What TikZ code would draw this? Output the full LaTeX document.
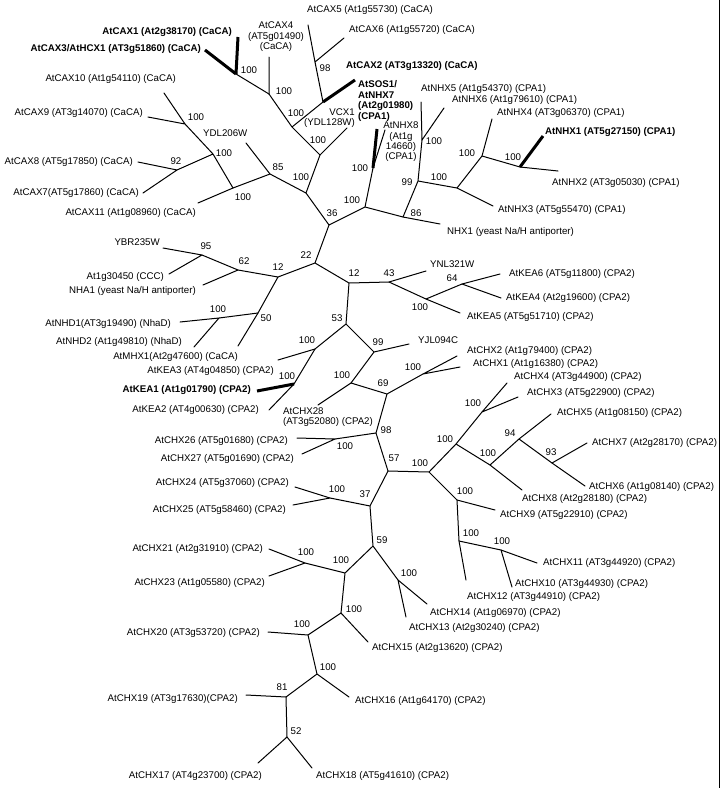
\documentclass[tikz,border=0pt]{standalone}
\usepackage{fontspec}
\setmainfont{Liberation Sans}
\newcommand\labfont{\fontsize{9.7}{10.4}\selectfont}
\tikzset{
  br/.style={line width=1pt, line cap=round},
  thk/.style={line width=3pt},
  lab/.style={inner sep=0pt, font=\labfont, text height=7pt, text depth=2pt},
  mlab/.style={inner sep=0pt, font=\labfont},
  bs/.style={inner sep=0pt, font=\labfont},
}
\begin{document}
\begin{tikzpicture}[x=1pt,y=-1pt]
\fill[white] (0,0) rectangle (720,788);
\useasboundingbox (0,0) rectangle (720,788);
\draw[line width=1.5pt] (719.3,0) -- (719.3,788);
% internal nodes
\coordinate (nc13) at (236,74);
\coordinate (nc4) at (269,94);
\coordinate (na) at (292,127);
\coordinate (nc2) at (323,102);
\coordinate (n98) at (315,62);
\coordinate (nv) at (320,155);
\coordinate (nb) at (306,193);
\coordinate (n85) at (270,174);
\coordinate (nc) at (233,188);
\coordinate (nd) at (213,154);
\coordinate (ne) at (185,124);
\coordinate (n92) at (177,170);
\coordinate (n36) at (329,225);
\coordinate (nf) at (365,207);
\coordinate (nsos) at (373,168);
\coordinate (n86) at (403,217);
\coordinate (n99) at (418,181);
\coordinate (ng) at (422,140);
\coordinate (nh) at (457,188);
\coordinate (ni) at (482,156);
\coordinate (nj) at (520,167);
\coordinate (n22) at (315,263);
\coordinate (n12a) at (278,277);
\coordinate (n62) at (238,270);
\coordinate (n95) at (202,255);
\coordinate (n50) at (258,313);
\coordinate (nnhd) at (219,318);
\coordinate (n12b) at (349,283);
\coordinate (n43) at (389,282);
\coordinate (nk) at (426,299);
\coordinate (n64) at (462,284);
\coordinate (n53) at (346,324);
\coordinate (nkea) at (315,349);
\coordinate (nkea12) at (294,384);
\coordinate (n99b) at (374,352);
\coordinate (nl) at (351,383);
\coordinate (n69) at (387,394);
\coordinate (nm) at (423,374);
\coordinate (n98b) at (376,433);
\coordinate (nn) at (335,439);
\coordinate (n57) at (388,471);
\coordinate (no) at (429,472);
\coordinate (np) at (456,444);
\coordinate (nq) at (482,412);
\coordinate (nr) at (490,465);
\coordinate (n94) at (519,439);
\coordinate (n93) at (552,463);
\coordinate (ns) at (457,500);
\coordinate (nt) at (459,541);
\coordinate (nu) at (501,550);
\coordinate (n37) at (370,506);
\coordinate (nw) at (330,498);
\coordinate (n59) at (373,546);
\coordinate (nx) at (398,580);
\coordinate (ny) at (345,573);
\coordinate (nz) at (305,563);
\coordinate (naa) at (341,613);
\coordinate (nbb) at (308,635);
\coordinate (ncc) at (317,674);
\coordinate (n81) at (286,697);
\coordinate (n52) at (287,737);
% leaf ends
\coordinate (lc1) at (238,37);
\coordinate (lc3) at (205,50);
\coordinate (lc4) at (269,57);
\coordinate (lc2) at (355,80);
\coordinate (lc5) at (308,25);
\coordinate (lc6) at (344,38);
\coordinate (lvcx) at (347,128);
\coordinate (lydl) at (246,143);
\coordinate (lc11) at (198,203);
\coordinate (lc10) at (164,93);
\coordinate (lc9) at (148,117);
\coordinate (lc8) at (138,162);
\coordinate (lc7) at (143,193);
\coordinate (lsos) at (377,129);
\coordinate (lnhx8) at (385,130);
\coordinate (lynhx) at (440,224);
\coordinate (lnhx5) at (421,102);
\coordinate (lnhx6) at (444,108);
\coordinate (lnhx3) at (493,206);
\coordinate (lnhx4) at (492,119);
\coordinate (lnhx1) at (543,136);
\coordinate (lnhx2) at (558,171);
\coordinate (lnha) at (203,285);
\coordinate (lybr) at (163,248);
\coordinate (lccc) at (169,274);
\coordinate (lmhx) at (238,346);
\coordinate (lnhd1) at (180,322);
\coordinate (lnhd2) at (194,347);
\coordinate (lynl) at (426,271);
\coordinate (lkea5) at (460,313);
\coordinate (lkea6) at (500,274);
\coordinate (lkea4) at (501,298);
\coordinate (lkea3) at (278,360);
\coordinate (lkea1) at (257,391);
\coordinate (lkea2) at (269,410);
\coordinate (lyjl) at (409,344);
\coordinate (lchx28) at (318,405);
\coordinate (lchx2) at (457,356);
\coordinate (lchx1) at (460,367);
\coordinate (lchx26) at (297,438);
\coordinate (lchx27) at (302,454);
\coordinate (lchx4) at (507,383);
\coordinate (lchx3) at (518,397);
\coordinate (lchx8) at (522,490);
\coordinate (lchx5) at (551,414);
\coordinate (lchx7) at (587,443);
\coordinate (lchx6) at (585,486);
\coordinate (lchx9) at (495,510);
\coordinate (lchx12) at (466,580);
\coordinate (lchx11) at (537,563);
\coordinate (lchx10) at (512,587);
\coordinate (lchx24) at (295,487);
\coordinate (lchx25) at (293,505);
\coordinate (lchx14) at (427,604);
\coordinate (lchx13) at (406,617);
\coordinate (lchx21) at (269,549);
\coordinate (lchx23) at (269,576);
\coordinate (lchx15) at (368,642);
\coordinate (lchx20) at (268,632);
\coordinate (lchx16) at (349,697);
\coordinate (lchx19) at (246,695);
\coordinate (lchx17) at (258,763);
\coordinate (lchx18) at (312,768);
% internal edges
\draw[br] (nc13)--(nc4) (nc4)--(na) (na)--(nc2) (nc2)--(n98) (na)--(nv) (nv)--(nb)
  (nb)--(n85) (n85)--(nc) (nc)--(nd) (nd)--(ne) (nd)--(n92) (nb)--(n36) (n36)--(nf)
  (nf)--(nsos) (nf)--(n86) (n86)--(n99) (n99)--(ng) (n99)--(nh) (nh)--(ni) (ni)--(nj)
  (n36)--(n22) (n22)--(n12a) (n12a)--(n62) (n62)--(n95) (n12a)--(n50) (n50)--(nnhd)
  (n22)--(n12b) (n12b)--(n43) (n43)--(nk) (nk)--(n64) (n12b)--(n53) (n53)--(nkea)
  (nkea)--(nkea12) (n53)--(n99b) (n99b)--(nl) (nl)--(n69) (n69)--(nm) (n69)--(n98b)
  (n98b)--(nn) (n98b)--(n57) (n57)--(no) (no)--(np) (np)--(nq) (np)--(nr) (nr)--(n94)
  (n94)--(n93) (no)--(ns) (ns)--(nt) (nt)--(nu) (n57)--(n37) (n37)--(nw) (n37)--(n59)
  (n59)--(nx) (n59)--(ny) (ny)--(nz) (ny)--(naa) (naa)--(nbb) (nbb)--(ncc) (ncc)--(n81)
  (n81)--(n52);
% leaf edges
\draw[thk] (nc13)--(lc1) (nc13)--(lc3) (nc2)--(lc2) (nsos)--(lsos) (nj)--(lnhx1) (nkea12)--(lkea1);
\draw[br] (nc4)--(lc4) (n98)--(lc5) (n98)--(lc6) (nv)--(lvcx) (n85)--(lydl) (nc)--(lc11)
  (ne)--(lc10) (ne)--(lc9) (n92)--(lc8) (n92)--(lc7) (nsos)--(lnhx8) (n86)--(lynhx)
  (ng)--(lnhx5) (ng)--(lnhx6) (nh)--(lnhx3) (ni)--(lnhx4) (nj)--(lnhx2) (n62)--(lnha)
  (n95)--(lybr) (n95)--(lccc) (n50)--(lmhx) (nnhd)--(lnhd1) (nnhd)--(lnhd2) (n43)--(lynl)
  (nk)--(lkea5) (n64)--(lkea6) (n64)--(lkea4) (nkea)--(lkea3) (nkea12)--(lkea2)
  (n99b)--(lyjl) (nl)--(lchx28) (nm)--(lchx2) (nm)--(lchx1) (nn)--(lchx26) (nn)--(lchx27)
  (nq)--(lchx4) (nq)--(lchx3) (nr)--(lchx8) (n94)--(lchx5) (n93)--(lchx7) (n93)--(lchx6)
  (ns)--(lchx9) (nt)--(lchx12) (nu)--(lchx11) (nu)--(lchx10) (nw)--(lchx24) (nw)--(lchx25)
  (nx)--(lchx14) (nx)--(lchx13) (nz)--(lchx21) (nz)--(lchx23) (naa)--(lchx15)
  (nbb)--(lchx20) (ncc)--(lchx16) (n81)--(lchx19) (n52)--(lchx17) (n52)--(lchx18);
% leaf labels, left side
\node[lab,anchor=east,font=\labfont\bfseries] (tc1) at (232,32) {AtCAX1 (At2g38170) (CaCA)};
\node[lab,anchor=east,font=\labfont\bfseries] (tc3) at (201,49) {AtCAX3/AtHCX1 (AT3g51860) (CaCA)};
\node[lab,anchor=east] (tc10) at (176,79) {AtCAX10 (At1g54110) (CaCA)};
\node[lab,anchor=east] (tc9) at (143,113) {AtCAX9 (AT3g14070) (CaCA)};
\node[lab,anchor=east] (tc8) at (133,162) {AtCAX8 (AT5g17850) (CaCA)};
\node[lab,anchor=east] (tc7) at (139,193) {AtCAX7(AT5g17860) (CaCA)};
\node[lab,anchor=east] (tc11) at (196,213) {AtCAX11 (At1g08960) (CaCA)};
\node[lab,anchor=east] (tybr) at (160,243) {YBR235W};
\node[lab,anchor=east] (tccc) at (164,277) {At1g30450 (CCC)};
\node[lab,anchor=east] (tnha) at (196,291) {NHA1 (yeast Na/H antiporter)};
\node[lab,anchor=east] (tnhd1) at (171,324) {AtNHD1(AT3g19490) (NhaD)};
\node[lab,anchor=east] (tnhd2) at (182,342) {AtNHD2 (At1g49810) (NhaD)};
\node[lab,anchor=east] (tmhx) at (238,357) {AtMHX1(At2g47600) (CaCA)};
\node[lab,anchor=east] (tkea3) at (274,371) {AtKEA3 (AT4g04850) (CPA2)};
\node[lab,anchor=east,font=\labfont\bfseries] (tkea1) at (251,390) {AtKEA1 (At1g01790) (CPA2)};
\node[lab,anchor=east] (tkea2) at (259,410) {AtKEA2 (AT4g00630) (CPA2)};
\node[lab,anchor=east] (tchx26) at (288,441) {AtCHX26 (AT5g01680) (CPA2)};
\node[lab,anchor=east] (tchx27) at (294,459) {AtCHX27 (AT5g01690) (CPA2)};
\node[lab,anchor=east] (tchx24) at (289,483) {AtCHX24 (AT5g37060) (CPA2)};
\node[lab,anchor=east] (tchx25) at (286,510) {AtCHX25 (AT5g58460) (CPA2)};
\node[lab,anchor=east] (tchx21) at (263,549) {AtCHX21 (At2g31910) (CPA2)};
\node[lab,anchor=east] (tchx23) at (265,583) {AtCHX23 (At1g05580) (CPA2)};
\node[lab,anchor=east] (tchx20) at (260,633) {AtCHX20 (AT3g53720) (CPA2)};
\node[lab,anchor=east] (tchx19) at (238,699) {AtCHX19 (AT3g17630)(CPA2)};
\node[lab,anchor=east] (tchx17) at (262,776) {AtCHX17 (AT4g23700) (CPA2)};
% leaf labels, right side
\node[lab,anchor=west] (tc5) at (307,10) {AtCAX5 (At1g55730) (CaCA)};
\node[lab,anchor=west] (tc6) at (349,30) {AtCAX6 (At1g55720) (CaCA)};
\node[lab,anchor=west,font=\labfont\bfseries] (tc2) at (346,66) {AtCAX2 (AT3g13320) (CaCA)};
\node[mlab,anchor=west,align=left,font=\labfont\bfseries] (tsos) at (358,101) {AtSOS1/\\AtNHX7\\(At2g01980)\\(CPA1)};
\node[mlab,align=center] (tnhx8) at (401,142) {AtNHX8\\(At1g\\14660)\\(CPA1)};
\node[mlab,align=center] (tc4) at (276,37) {AtCAX4\\(AT5g01490)\\(CaCA)};
\node[mlab,align=right,anchor=east] (tvcx) at (355,118) {VCX1\\(YDL128W)};
\node[lab,anchor=west] (tydl) at (203,134) {YDL206W};
\node[lab,anchor=west] (tnhx5) at (421,89) {AtNHX5 (At1g54370) (CPA1)};
\node[lab,anchor=west] (tnhx6) at (452,100) {AtNHX6 (At1g79610) (CPA1)};
\node[lab,anchor=west] (tnhx4) at (497,113) {AtNHX4 (AT3g06370) (CPA1)};
\node[lab,anchor=west,font=\labfont\bfseries] (tnhx1) at (545,132) {AtNHX1 (AT5g27150) (CPA1)};
\node[lab,anchor=west] (tnhx2) at (552,183) {AtNHX2 (AT3g05030) (CPA1)};
\node[lab,anchor=west] (tnhx3) at (498,210) {AtNHX3 (AT5g55470) (CPA1)};
\node[lab,anchor=west] (tynhx) at (447,232) {NHX1 (yeast Na/H antiporter)};
\node[lab,anchor=west] (tynl) at (430,265) {YNL321W};
\node[lab,anchor=west] (tkea6) at (509,274) {AtKEA6 (AT5g11800) (CPA2)};
\node[lab,anchor=west] (tkea4) at (506,298) {AtKEA4 (At2g19600) (CPA2)};
\node[lab,anchor=west] (tkea5) at (467,317) {AtKEA5 (AT5g51710) (CPA2)};
\node[lab,anchor=west] (tyjl) at (418,341) {YJL094C};
\node[mlab,anchor=west,align=left] (tchx28) at (283,417) {AtCHX28\\(AT3g52080) (CPA2)};
\node[lab,anchor=west] (tchx2) at (467,351) {AtCHX2 (At1g79400) (CPA2)};
\node[lab,anchor=west] (tchx1) at (473,364) {AtCHX1 (At1g16380) (CPA2)};
\node[lab,anchor=west] (tchx4) at (514,377) {AtCHX4 (AT3g44900) (CPA2)};
\node[lab,anchor=west] (tchx3) at (527,393) {AtCHX3 (AT5g22900) (CPA2)};
\node[lab,anchor=west] (tchx5) at (557,413) {AtCHX5 (At1g08150) (CPA2)};
\node[lab,anchor=west] (tchx7) at (592,443) {AtCHX7 (At2g28170) (CPA2)};
\node[lab,anchor=west] (tchx6) at (589,487) {AtCHX6 (At1g08140) (CPA2)};
\node[lab,anchor=west] (tchx8) at (522,499) {AtCHX8 (At2g28180) (CPA2)};
\node[lab,anchor=west] (tchx9) at (500,515) {AtCHX9 (AT5g22910) (CPA2)};
\node[lab,anchor=west] (tchx11) at (543,563) {AtCHX11 (AT3g44920) (CPA2)};
\node[lab,anchor=west] (tchx10) at (515,584) {AtCHX10 (AT3g44930) (CPA2)};
\node[lab,anchor=west] (tchx12) at (467,597) {AtCHX12 (AT3g44910) (CPA2)};
\node[lab,anchor=west] (tchx14) at (430,613) {AtCHX14 (At1g06970) (CPA2)};
\node[lab,anchor=west] (tchx13) at (409,628) {AtCHX13 (At2g30240) (CPA2)};
\node[lab,anchor=west] (tchx15) at (372,648) {AtCHX15 (At2g13620) (CPA2)};
\node[lab,anchor=west] (tchx16) at (355,701) {AtCHX16 (At1g64170) (CPA2)};
\node[lab,anchor=west] (tchx18) at (316,776) {AtCHX18 (AT5g41610) (CPA2)};
% bootstrap values
\node[bs] (b01) at (249,70) {100};
\node[bs] (b02) at (284,91) {100};
\node[bs] (b03) at (296,113) {100};
\node[bs] (b04) at (325,68) {98};
\node[bs] (b05) at (318,140) {100};
\node[bs] (b06) at (301,177) {100};
\node[bs] (b07) at (278,167) {85};
\node[bs] (b08) at (243,197) {100};
\node[bs] (b09) at (224,153) {100};
\node[bs] (b10) at (196,117) {100};
\node[bs] (b11) at (176,161) {92};
\node[bs] (b12) at (332,213) {36};
\node[bs] (b13) at (352,200) {100};
\node[bs] (b14) at (360,168) {100};
\node[bs] (b15) at (416,213) {86};
\node[bs] (b16) at (407,182) {99};
\node[bs] (b17) at (434,141) {100};
\node[bs] (b18) at (439,177) {100};
\node[bs] (b19) at (467,153) {100};
\node[bs] (b20) at (513,157) {100};
\node[bs] (b21) at (306,255) {22};
\node[bs] (b22) at (278,267) {12};
\node[bs] (b23) at (244,261) {62};
\node[bs] (b24) at (206,246) {95};
\node[bs] (b25) at (266,318) {50};
\node[bs] (b26) at (218,309) {100};
\node[bs] (b27) at (354,273) {12};
\node[bs] (b28) at (389,273) {43};
\node[bs] (b29) at (420,307) {100};
\node[bs] (b30) at (452,278) {64};
\node[bs] (b31) at (337,318) {53};
\node[bs] (b32) at (307,340) {100};
\node[bs] (b33) at (287,376) {100};
\node[bs] (b34) at (378,342) {99};
\node[bs] (b35) at (342,375) {100};
\node[bs] (b36) at (383,383) {69};
\node[bs] (b37) at (413,367) {100};
\node[bs] (b38) at (386,430) {98};
\node[bs] (b39) at (345,446) {100};
\node[bs] (b40) at (394,458) {57};
\node[bs] (b41) at (420,463) {100};
\node[bs] (b42) at (445,439) {100};
\node[bs] (b43) at (473,403) {100};
\node[bs] (b44) at (488,453) {100};
\node[bs] (b45) at (510,433) {94};
\node[bs] (b46) at (551,452) {93};
\node[bs] (b47) at (465,491) {100};
\node[bs] (b48) at (471,533) {100};
\node[bs] (b49) at (502,541) {100};
\node[bs] (b50) at (365,494) {37};
\node[bs] (b51) at (337,489) {100};
\node[bs] (b52) at (382,540) {59};
\node[bs] (b53) at (409,573) {100};
\node[bs] (b54) at (341,560) {100};
\node[bs] (b55) at (306,552) {100};
\node[bs] (b56) at (354,609) {100};
\node[bs] (b57) at (302,624) {100};
\node[bs] (b58) at (328,667) {100};
\node[bs] (b59) at (282,687) {81};
\node[bs] (b60) at (296,731) {52};
\end{tikzpicture}
\end{document}
